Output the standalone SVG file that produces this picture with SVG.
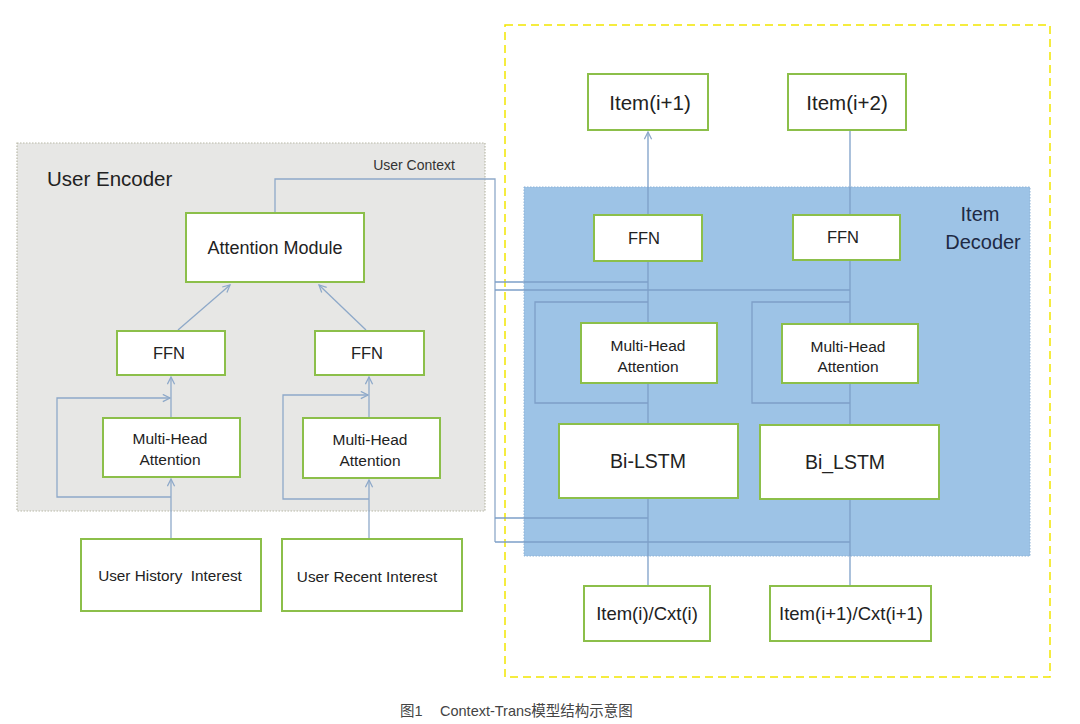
<svg xmlns="http://www.w3.org/2000/svg" width="1080" height="724" viewBox="0 0 1080 724">
<style>
text{font-family:"Liberation Sans","Noto Sans CJK SC",sans-serif;fill:#222222;text-anchor:middle}
.node{fill:#ffffff;stroke:#8cbf4a;stroke-width:2}
.conn{fill:none;stroke:#8ea9c9;stroke-width:1.3}
.inner{stroke:#7d9fc8}
.big{font-size:18px}
.item{font-size:20.5px}
.ffn{font-size:16.5px}
.mid{font-size:18.5px}
.sm{font-size:15.5px}
.usr{font-size:15.3px}
.cap{font-size:14.5px;fill:#444444;text-anchor:start}
</style>
<defs>
<marker id="arr" viewBox="0 0 10 10" refX="9" refY="5" markerWidth="9" markerHeight="9" orient="auto" markerUnits="userSpaceOnUse">
<path d="M1,1 L9,5 L1,9" fill="none" stroke="#8ea9c9" stroke-width="1.4"/>
</marker>
</defs>
<rect width="1080" height="724" fill="#ffffff"/>
<g id="user-encoder-bg">
<rect x="17" y="143" width="468" height="368" fill="#e7e7e5" stroke="#b9b9a8" stroke-width="1.2" stroke-dasharray="1.5 1.5"/>
<text x="47" y="186" style="font-size:20.5px;text-anchor:start">User Encoder</text>
</g>
<g id="item-decoder-frame">
<rect x="505" y="25" width="545" height="652" fill="none" stroke="#f2e600" stroke-width="1.5" stroke-dasharray="8 5"/>
</g>
<g id="item-decoder-bg">
<rect x="524" y="187" width="506" height="369" fill="#9dc3e6" stroke="#8fb3d6" stroke-width="1" stroke-dasharray="1.5 1.5"/>
<text x="980" y="221" style="font-size:20px;fill:#1e2a44">Item</text>
<text x="983" y="249" style="font-size:20px;fill:#1e2a44">Decoder</text>
</g>
<g id="connectors">
<path class="conn" d="M171,539 V479" marker-end="url(#arr)"/>
<path class="conn" d="M171,497 H57 V398 H170" marker-end="url(#arr)"/>
<path class="conn" d="M171,418 V377" marker-end="url(#arr)"/>
<path class="conn" d="M178,330 L230,285" marker-end="url(#arr)"/>
<path class="conn" d="M369,539 V480" marker-end="url(#arr)"/>
<path class="conn" d="M369,499 H283 V395 H368" marker-end="url(#arr)"/>
<path class="conn" d="M369,418 V377" marker-end="url(#arr)"/>
<path class="conn" d="M366,330 L319,285" marker-end="url(#arr)"/>
<path class="conn" d="M275,213 V179 H495 V542"/>
<path class="conn inner" d="M495,282 H648"/>
<path class="conn inner" d="M495,290 H850"/>
<path class="conn inner" d="M495,518 H648"/>
<path class="conn inner" d="M495,542 H850"/>
<path class="conn inner" d="M648,586 V132" marker-end="url(#arr)"/>
<path class="conn inner" d="M648,403 H535 V302 H648"/>
<path class="conn inner" d="M850,586 V131"/>
<path class="conn inner" d="M850,403 H752 V302 H850"/>
</g>
<g id="attention-module"><rect class="node" x="186" y="213" width="178" height="69"/><text class="big" x="275" y="254">Attention Module</text></g>
<g id="enc-ffn-1"><rect class="node" x="117" y="331" width="108" height="44"/><text class="ffn" x="169" y="359">FFN</text></g>
<g id="enc-ffn-2"><rect class="node" x="315" y="331" width="109" height="44"/><text class="ffn" x="367" y="359">FFN</text></g>
<g id="enc-mha-1"><rect class="node" x="103" y="418" width="137" height="59"/><text class="sm" x="170" y="444">Multi-Head</text><text class="sm" x="170" y="465">Attention</text></g>
<g id="enc-mha-2"><rect class="node" x="303" y="418" width="137" height="60"/><text class="sm" x="370" y="445">Multi-Head</text><text class="sm" x="370" y="466">Attention</text></g>
<g id="user-history"><rect class="node" x="81" y="539" width="180" height="72"/><text class="usr" x="170" y="581" xml:space="preserve">User History  Interest</text></g>
<g id="user-recent"><rect class="node" x="282" y="539" width="180" height="72"/><text class="usr" x="367" y="582">User Recent Interest</text></g>
<g id="item-i1"><rect class="node" x="588" y="74" width="120" height="56"/><text class="item" x="650" y="110">Item(i+1)</text></g>
<g id="item-i2"><rect class="node" x="788" y="74" width="118" height="56"/><text class="item" x="847" y="110">Item(i+2)</text></g>
<g id="dec-ffn-1"><rect class="node" x="594" y="215" width="108" height="46"/><text class="ffn" x="644" y="244">FFN</text></g>
<g id="dec-ffn-2"><rect class="node" x="793" y="215" width="107" height="45"/><text class="ffn" x="843" y="243">FFN</text></g>
<g id="dec-mha-1"><rect class="node" x="581" y="323" width="136" height="60"/><text class="sm" x="648" y="351">Multi-Head</text><text class="sm" x="648" y="372">Attention</text></g>
<g id="dec-mha-2"><rect class="node" x="782" y="324" width="136" height="59"/><text class="sm" x="848" y="352">Multi-Head</text><text class="sm" x="848" y="372">Attention</text></g>
<g id="bi-lstm-1"><rect class="node" x="559" y="424" width="179" height="74"/><text x="648" y="468" style="font-size:19.5px">Bi-LSTM</text></g>
<g id="bi-lstm-2"><rect class="node" x="760" y="425" width="179" height="74"/><text x="845" y="469" style="font-size:19.5px">Bi_LSTM</text></g>
<g id="item-cxt-i"><rect class="node" x="584" y="586" width="126" height="55"/><text class="mid" x="647" y="620">Item(i)/Cxt(i)</text></g>
<g id="item-cxt-i1"><rect class="node" x="770" y="586" width="161" height="55"/><text class="mid" x="851" y="620">Item(i+1)/Cxt(i+1)</text></g>
<text x="414" y="170" style="font-size:14px;fill:#333">User Context</text>
<g id="caption">
<text class="cap" x="400" y="716">图1</text>
<text class="cap" x="440" y="716">Context-Trans模型结构示意图</text>
</g>
</svg>
